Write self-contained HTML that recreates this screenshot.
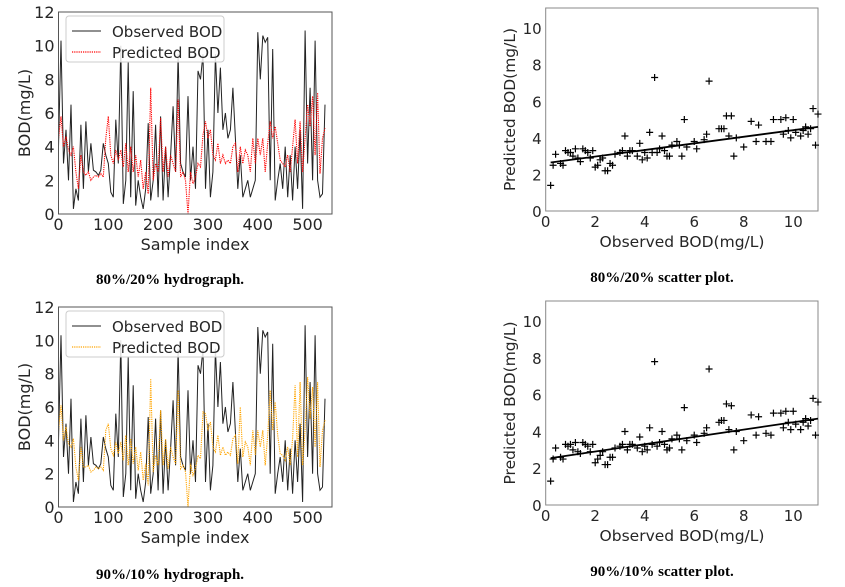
<!DOCTYPE html>
<html><head><meta charset="utf-8"><style>
body{margin:0;background:#fff;width:845px;height:587px;overflow:hidden}
svg{display:block}
text{font-family:"DejaVu Sans","Liberation Sans",sans-serif;fill:#262626}
.cap{font-family:"Liberation Serif",serif;font-weight:bold;font-size:15px;fill:#000}
</style></head><body>
<svg id="fig" width="845" height="587"></svg>
<script>
const observed=[4,10.3,3,5,2,6.5,0.3,1.5,0.8,5.3,1.5,5.5,2.5,4.2,2.6,2.5,2.3,2.6,4.2,3.5,3,1.3,1,5.6,3,10,0.6,2,9,1,7.3,0.5,2,1,0.3,1.5,5.4,0.8,2,5.3,1,5.8,0.8,4,1,3.5,6.4,2.5,9.5,3,2.5,2.2,7,2,4,1.5,8.5,8,9.5,1.5,5,1,2.5,9.5,6,8.7,5,6,4.5,5,7.5,4.5,1.5,3.5,1,1.5,2,1,1.5,2,10.8,8,10.6,10.2,10.5,2,9.8,0.8,2,3,1.5,4,1,3.5,0.8,4,1.5,5,0.3,10.9,3,7.5,2,10.3,2,1,1.2,6.5];
const predRed=[4.5,5.8,4,4.6,3.8,3.5,4,2.5,1.5,3.5,2.5,2.3,2.5,2,2.2,2.3,2.2,2.4,2.2,4.5,5.8,3.5,3,3.8,3.2,3.8,2.8,4.2,2.5,4,2.5,3.5,2.2,3.2,1.5,2.5,1.2,7.5,2,3,2.5,5.7,2.5,4,2.2,3.5,3,2.5,6.8,2.2,2.5,2,0,2.5,1.8,2.2,3,2.8,4.7,5.5,4.5,5,3.5,3.2,4.2,3,3.5,3,3.2,3,4,4.2,2.5,4,3,3.8,3.5,2.5,4.5,3,4.5,3.5,4.5,2.5,4.2,5.5,4.5,5.2,4.2,3.2,3,2.8,3.5,2.5,4,5.6,3,5.5,2.5,4.5,6.5,5.2,7,3.5,7.2,2.4,4.5,5.1];
const predOrange=[4.6,6.1,4,4.8,3.8,3.6,4.1,2.4,1.6,3.6,2.4,2.4,2.5,2.1,2.2,2.4,2.3,2.4,2.2,4.6,5,3.5,3.1,3.9,3.2,3.9,2.8,4.3,2.5,4.1,2.6,3.6,2.2,3.3,1.6,2.6,1.3,7.7,2.1,3.1,2.5,5.8,2.5,4.1,2.3,3.6,3,2.6,7,2.3,2.5,2.1,0,2.6,1.9,2.3,3.1,2.9,5.7,5.6,4.6,5.1,3.6,3.3,4.3,3.1,3.6,3.1,3.3,3.1,4.1,4.3,2.6,6,3,3.9,3.6,2.5,4.6,3.1,4.6,3.6,4.6,2.5,4.3,7,4.6,6.3,4.3,3.2,3.1,2.8,3.6,2.5,4.1,7.3,3,7.5,2.5,4.6,7.8,5.3,7.2,3.6,7.5,2.4,4.6,5.2];
const sampleStep=5;
const scObs=[0.2,0.3,0.4,0.6,0.7,0.8,0.9,1,1.1,1.2,1.3,1.4,1.5,1.6,1.7,1.8,1.9,2,2.1,2.2,2.3,2.4,2.5,2.6,2.7,2.8,3,3.1,3.2,3.3,3.4,3.5,3.7,3.8,3.9,4,4.1,4.2,4.3,4.4,4.5,4.6,4.7,4.8,4.9,5,5.1,5.3,5.4,5.5,5.6,5.7,6,6.1,6.4,6.5,6.6,7,7.1,7.2,7.3,7.4,7.5,7.6,7.7,8,8.3,8.5,8.6,8.9,9.1,9.2,9.5,9.6,9.7,9.8,9.9,10,10.1,10.3,10.4,10.5,10.6,10.7,10.8,10.9,11];
const scPred1=[1.4,2.5,3.1,2.6,2.5,3.3,3.2,3.2,3,3.4,2.9,2.7,3.4,3.3,3.2,2.9,3.3,2.4,2.5,2.8,2.9,2.2,2.2,2.6,2.5,3.1,3.2,3.3,4.1,3,3.3,3.3,3,3.7,2.8,3.2,2.9,4.3,3.2,7.3,3.2,3.4,4.1,3.3,3,3,3.6,3.8,3.6,3,5,3.5,3.8,3.4,3.9,4.2,7.1,4.5,4.5,4.5,5.2,4.1,5.2,3,4,3.5,4.9,3.8,4.7,3.8,3.8,5,5,4.2,5.1,4.4,4,5,4.3,4.1,4.4,4.6,4.2,4.5,5.6,3.6,5.3];
const scPred2=[1.3,2.5,3.1,2.6,2.5,3.3,3.2,3.3,3,3.4,2.9,2.8,3.4,3.3,3.2,2.9,3.3,2.3,2.5,2.7,2.9,2.2,2.2,2.6,2.6,3.1,3.2,3.3,4,3,3.3,3.3,3.1,3.7,2.9,3.2,3,4.2,3.3,7.8,3.2,3.4,4,3.3,3,3.1,3.6,3.8,3.6,3,5.3,3.5,3.8,3.4,3.9,4.2,7.4,4.5,4.6,4.6,5.5,4.1,5.4,3,4,3.5,4.9,3.8,4.8,3.9,3.8,5,5,4.2,5.1,4.5,4.1,5.1,4.4,4.1,4.5,4.7,4.3,4.6,5.8,3.8,5.6];
const fitLine1=[0.2,2.65,11,4.6];
const fitLine2=[0.2,2.55,11,4.7];
const hydroTicksX=[0,100,200,300,400,500];
const hydroTicksY=[0,2,4,6,8,10,12];
const scatTicks=[0,2,4,6,8,10];

const NS='http://www.w3.org/2000/svg';
const svg=document.getElementById('fig');
function el(tag,attrs,parent,txt){const e=document.createElementNS(NS,tag);for(const k in attrs)e.setAttribute(k,attrs[k]);if(txt!==undefined)e.textContent=txt;(parent||svg).appendChild(e);return e;}

function hydro(top,zero,pred,color,pname,caption,capY,tag){
  const g=el('g',{});
  
  
  const x0=58.5,x1=332,xmax=549;
  const X=v=>x0+v*(x1-x0)/xmax;
  const ky=(zero-top)/12;
  const Y=v=>zero-v*ky;
  const clip='c'+tag;
  const cp=el('clipPath',{id:clip},g);el('rect',{x:x0,y:top-1,width:x1-x0,height:zero-top+2},cp);
  let d='';observed.forEach((v,i)=>{d+=(i?'L':'M')+X(i*sampleStep).toFixed(1)+','+Y(v).toFixed(1);});
  const ol=el('path',{d:d,fill:'none',stroke:'#222','stroke-width':1,'clip-path':`url(#${clip})`},g);
  
  
  d='';pred.forEach((v,i)=>{d+=(i?'L':'M')+X(i*sampleStep).toFixed(1)+','+Y(v).toFixed(1);});
  const pl=el('path',{d:d,fill:'none',stroke:color,'stroke-width':1.1,'stroke-dasharray':'1.2,1','clip-path':`url(#${clip})`},g);
  
  
  el('rect',{x:x0,y:top,width:x1-x0,height:zero-top,fill:'none',stroke:'#555','stroke-width':1},g);
  hydroTicksX.forEach(t=>{const tx=el('text',{x:X(t),y:zero+16,'text-anchor':'middle','font-size':16},g,t);});
  hydroTicksY.forEach(t=>{const ty=el('text',{x:x0-4,y:Y(t)+6,'text-anchor':'end','font-size':16},g,t);});
  const xl=el('text',{x:195,y:zero+36,'text-anchor':'middle','font-size':16},g,'Sample index');
  
  const yl=el('text',{x:0,y:0,'text-anchor':'middle','font-size':16,transform:`translate(30,${(top+zero)/2}) rotate(-90)`},g,'BOD(mg/L)');
  
  const lg=el('g',{},g);
  
  el('rect',{x:66,y:top+4,width:158,height:46,fill:'#fff','fill-opacity':0.85,stroke:'#ccc',rx:3},lg);
  el('line',{x1:72,y1:top+19,x2:101,y2:top+19,stroke:'#222','stroke-width':1},lg);
  el('text',{x:112,y:top+25,'font-size':15},lg,'Observed BOD');
  el('line',{x1:72,y1:top+40,x2:101,y2:top+40,stroke:color,'stroke-width':1.2,'stroke-dasharray':'1.2,1'},lg);
  el('text',{x:112,y:top+46,'font-size':15},lg,pname);
  const c=el('text',{x:170,y:capY,'text-anchor':'middle',class:'cap'},g,caption);
  
}

function scatter(top,zero,preds,fit,caption,capY,tag){
  const g=el('g',{});
  
  
  const x0=545.7,x1=818,xmax=11;
  const X=v=>x0+v*(x1-x0)/xmax;
  const ky=(zero-top)/11.1;
  const Y=v=>zero-v*ky;
  el('rect',{x:x0,y:top,width:x1-x0,height:zero-top,fill:'none',stroke:'#888','stroke-width':1},g);
  scObs.forEach((o,i)=>{const p=preds[i];const cx=X(o),cy=Y(p);
    const m=el('path',{d:`M${cx-3.5},${cy}H${cx+3.5}M${cx},${cy-3.5}V${cy+3.5}`,stroke:'#000','stroke-width':1.2},g);
    });
  const fl=el('line',{x1:X(fit[0]),y1:Y(fit[1]),x2:X(fit[2]),y2:Y(fit[3]),stroke:'#000','stroke-width':1.8},g);
  
  scatTicks.forEach(t=>{const tx=el('text',{x:X(t),y:zero+16,'text-anchor':'middle','font-size':15,fill:'#444'},g,t);});
  scatTicks.forEach(t=>{const ty=el('text',{x:x0-4,y:Y(t)+6,'text-anchor':'end','font-size':15,fill:'#444'},g,t);});
  const xl=el('text',{x:682,y:zero+36,'text-anchor':'middle','font-size':15.5,fill:'#444'},g,'Observed BOD(mg/L)');
  
  const yl=el('text',{x:0,y:0,'text-anchor':'middle','font-size':15.5,fill:'#444',transform:`translate(515,${(top+zero)/2}) rotate(-90)`},g,'Predicted BOD(mg/L)');
  
  const c=el('text',{x:662,y:capY,'text-anchor':'middle',class:'cap'},g,caption);
  
}

hydro(12,214,predRed,'#ff0000','Predicted BOD','80%/20% hydrograph.',284,'top');
hydro(307,507,predOrange,'#ffa500','Predicted BOD','90%/10% hydrograph.',579,'bottom');
scatter(8,211,scPred1,fitLine1,'80%/20% scatter plot.',282,'top');
scatter(301,505,scPred2,fitLine2,'90%/10% scatter plot.',576,'bottom');
</script>
</body></html>
